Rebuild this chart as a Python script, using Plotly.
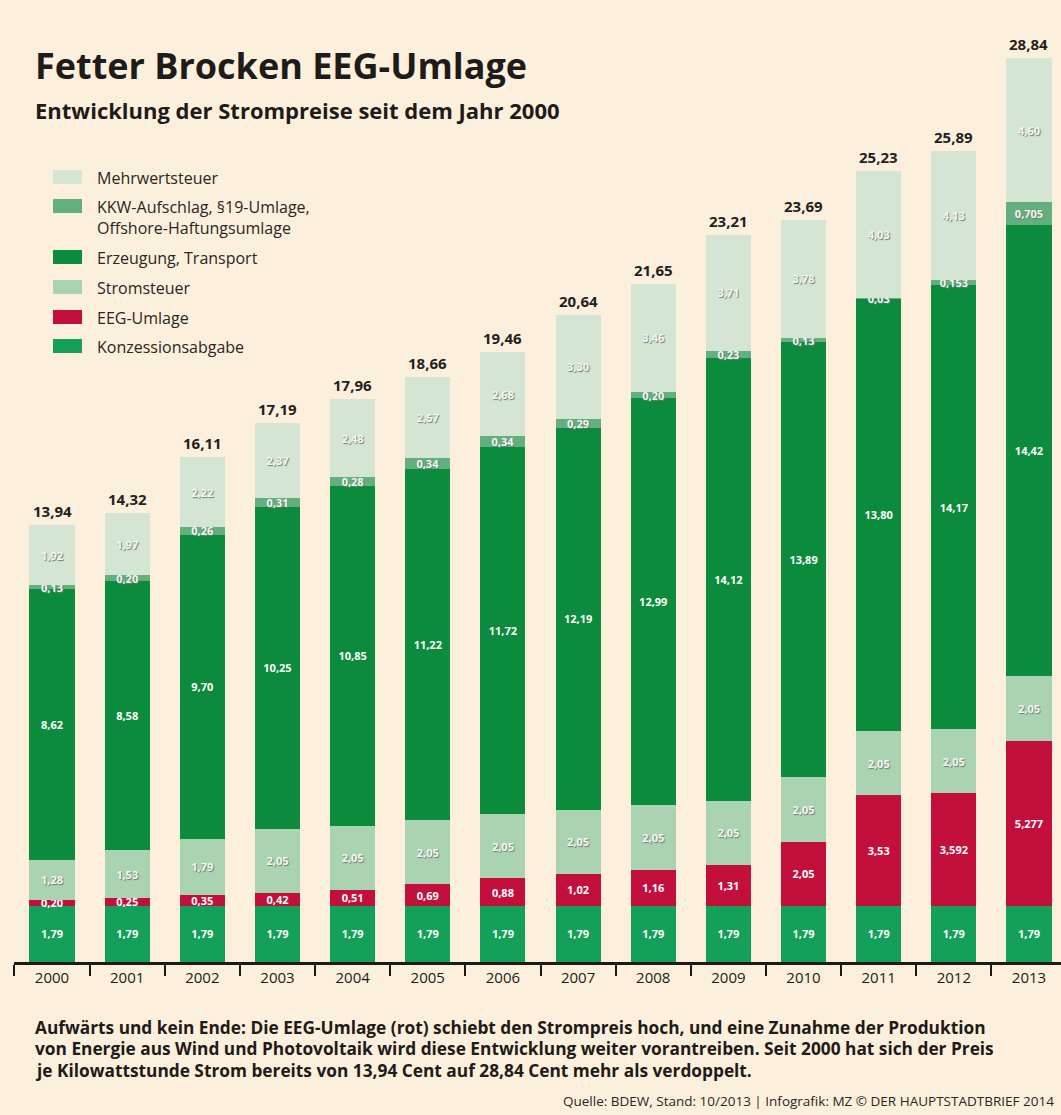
import plotly.graph_objects as go

# ---------------- data ----------------
years = ["2000", "2001", "2002", "2003", "2004", "2005", "2006",
         "2007", "2008", "2009", "2010", "2011", "2012", "2013"]
konzession = [1.79, 1.79, 1.79, 1.79, 1.79, 1.79, 1.79, 1.79, 1.79, 1.79, 1.79, 1.79, 1.79, 1.79]
eeg_umlage = [0.20, 0.25, 0.35, 0.42, 0.51, 0.69, 0.88, 1.02, 1.16, 1.31, 2.05, 3.53, 3.592, 5.277]
stromsteuer = [1.28, 1.53, 1.79, 2.05, 2.05, 2.05, 2.05, 2.05, 2.05, 2.05, 2.05, 2.05, 2.05, 2.05]
erzeugung = [8.62, 8.58, 9.70, 10.25, 10.85, 11.22, 11.72, 12.19, 12.99, 14.12, 13.89, 13.80, 14.17, 14.42]
kkw = [0.13, 0.20, 0.26, 0.31, 0.28, 0.34, 0.34, 0.29, 0.20, 0.23, 0.13, 0.03, 0.153, 0.705]
mehrwertsteuer = [1.92, 1.97, 2.22, 2.37, 2.48, 2.57, 2.68, 3.30, 3.46, 3.71, 3.78, 4.03, 4.13, 4.60]
totals = [13.94, 14.32, 16.11, 17.19, 17.96, 18.66, 19.46, 20.64, 21.65, 23.21, 23.69, 25.23, 25.89, 28.84]

series_names = ["Konzessionsabgabe", "EEG-Umlage", "Stromsteuer", "Erzeugung, Transport",
                "KKW-Aufschlag, §19-Umlage,<br>Offshore-Haftungsumlage", "Mehrwertsteuer"]
series_values = [konzession, eeg_umlage, stromsteuer, erzeugung, kkw, mehrwertsteuer]
series_colors = ["#15a059", "#c20f3b", "#a9d3b1", "#0b8b3b", "#62b07e", "#d4e5d3"]
light_series = [False, False, True, False, True, True]

title = "Fetter Brocken EEG-Umlage"
subtitle = "Entwicklung der Strompreise seit dem Jahr 2000"
caption_lines = [
    "Aufwärts und kein Ende: Die EEG-Umlage (rot) schiebt den Strompreis hoch, und eine Zunahme der Produktion",
    "von Energie aus Wind und Photovoltaik wird diese Entwicklung weiter vorantreiben. Seit 2000 hat sich der Preis",
    "je Kilowattstunde Strom bereits von 13,94 Cent auf 28,84 Cent mehr als verdoppelt.",
]
source = "Quelle: BDEW, Stand: 10/2013 | Infografik: MZ © DER HAUPTSTADTBRIEF 2014"

BG = "#fcf0dc"
FONT = "Open Sans"

def de(v):
    s = f"{v:.2f}" if round(v, 2) == v else f"{v:.3f}"
    return s.replace(".", ",")

# plot-area geometry (pixels)
WIDTH, HEIGHT = 1061, 1115
L, R, T, B = 14, 0, 22, 153
PW = WIDTH - L - R
PH = HEIGHT - T - B

def px(x):
    return (x - L) / PW

def py(y):
    return (HEIGHT - B - y) / PH

fig = go.Figure()
for name, vals, col, light in zip(series_names, series_values, series_colors, light_series):
    if light:
        tf = dict(family=FONT, size=11, color="#f4f7f3", weight="bold",
                  shadow="1px 1px 1px #6f7d72")
    else:
        tf = dict(family=FONT, size=11, color="#ffffff", weight="bold")
    fig.add_trace(go.Bar(
        x=years, y=vals, name=name, marker=dict(color=col, line=dict(width=0)),
        text=[de(v) for v in vals], textposition="inside", insidetextanchor="middle",
        textangle=0, constraintext="none", textfont=tf, showlegend=False,
        hoverinfo="x+y+name",
    ))

annotations = []
# totals above bars (category index positions)
for i, tot in enumerate(totals):
    annotations.append(dict(x=i, y=tot, xref="x", yref="y", text=f"<b>{de(tot)}</b>",
                            showarrow=False, yanchor="bottom", yshift=2,
                            font=dict(family=FONT, size=15, color="#231f1c")))

# title / subtitle
annotations.append(dict(x=px(33), y=py(66), xref="paper", yref="paper", text=f"<b>{title}</b>",
                        showarrow=False, xanchor="left", yanchor="middle",
                        font=dict(family=FONT, size=36, color="#1e1b18")))
annotations.append(dict(x=px(33), y=py(110), xref="paper", yref="paper", text=f"<b>{subtitle}</b>",
                        showarrow=False, xanchor="left", yanchor="middle",
                        font=dict(family=FONT, size=22, color="#1e1b18")))

# custom legend (top to bottom)
legend_rows = [177, 206, 257, 287, 317, 346]
shapes = []
for i, row in enumerate(legend_rows):
    k = len(series_names) - 1 - i
    shapes.append(dict(type="rect", xref="paper", yref="paper",
                       x0=px(53), x1=px(82), y0=py(row + 7), y1=py(row - 7),
                       fillcolor=series_colors[k], line=dict(width=0)))
    annotations.append(dict(x=px(95), y=py(row - 12), xref="paper", yref="paper",
                            text=series_names[k], showarrow=False, xanchor="left", yanchor="top",
                            align="left",
                            font=dict(family=FONT, size=16, color="#2a2623")))

# caption
for i, line in enumerate(caption_lines):
    annotations.append(dict(x=px(33), y=py(1027 + 21.5 * i), xref="paper", yref="paper",
                            text=f"<b>{line}</b>", showarrow=False, xanchor="left", yanchor="middle",
                            font=dict(family=FONT, size=17.3, color="#1e1b18")))
annotations.append(dict(x=px(1056), y=py(1101), xref="paper", yref="paper", text=source,
                        showarrow=False, xanchor="right", yanchor="middle",
                        font=dict(family=FONT, size=13.5, color="#2a2623")))

fig.update_layout(
    width=WIDTH, height=HEIGHT,
    margin=dict(l=L, r=R, t=T, b=B, pad=0),
    paper_bgcolor=BG, plot_bgcolor=BG,
    barmode="stack", bargap=0.4,
    uniformtext=dict(minsize=11, mode="show"),
    showlegend=False,
    annotations=annotations, shapes=shapes,
    font=dict(family=FONT),
    xaxis=dict(type="category", range=[-0.506, 13.426], showgrid=False, zeroline=False,
               showline=True, linecolor="#1c1a18", linewidth=3,
               ticks="outside", tickson="boundaries", ticklen=11, tickwidth=2,
               tickcolor="#1c1a18",
               tickfont=dict(family=FONT, size=15, color="#1e1b18")),
    yaxis=dict(range=[0, 30], visible=False, showgrid=False, zeroline=False),
)

fig.write_html("out.html", config={"displayModeBar": False},
               post_script="document.body.style.margin='0px';")
